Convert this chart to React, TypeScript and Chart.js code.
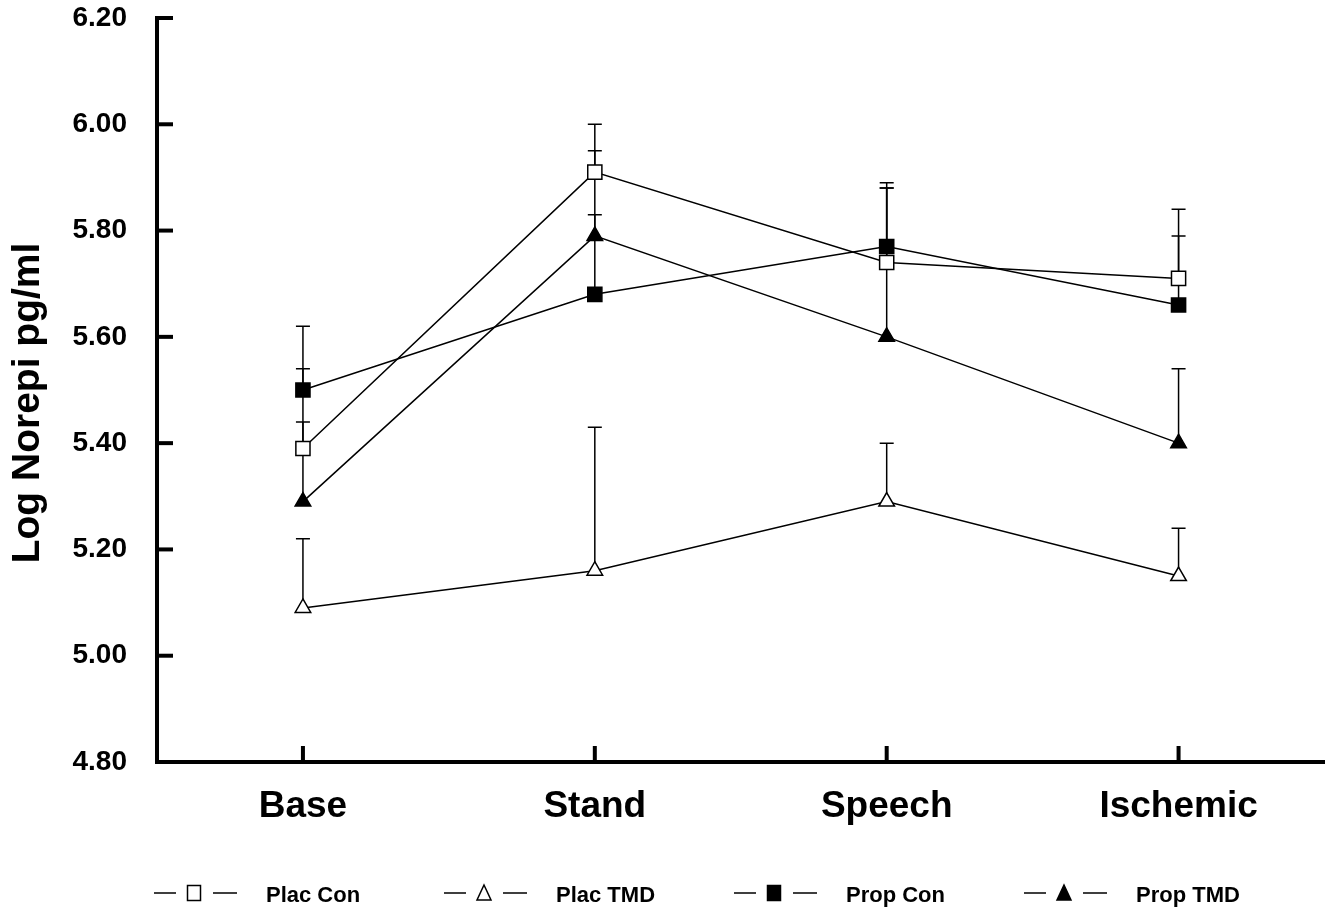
import React, { useEffect, useRef } from "react";
import { Chart, registerables } from "chart.js";

Chart.register(...registerables);

const CATEGORIES = ["Base", "Stand", "Speech", "Ischemic"];
const Y_TICKS = [4.8, 5.0, 5.2, 5.4, 5.6, 5.8, 6.0, 6.2];
const Y_TITLE = "Log Norepi pg/ml";

const PLAC_CON = [5.39, 5.91, 5.74, 5.71];
const PLAC_CON_UPPER = [5.54, 6.0, 5.88, 5.84];
const PLAC_TMD = [5.09, 5.16, 5.29, 5.15];
const PLAC_TMD_UPPER = [5.22, 5.43, 5.4, 5.24];
const PROP_CON = [5.5, 5.68, 5.77, 5.66];
const PROP_CON_UPPER = [5.62, 5.83, 5.89, 5.79];
const PROP_TMD = [5.29, 5.79, 5.6, 5.4];
const PROP_TMD_UPPER = [5.44, 5.95, 5.88, 5.54];

const SERIES_LABELS = ["Plac Con", "Plac TMD", "Prop Con", "Prop TMD"];

const FONT = "'Liberation Sans', Arial, sans-serif";

type Sty = { shape: "rect" | "triangle"; filled: boolean };
const STYLES: Sty[] = [
  { shape: "rect", filled: false },
  { shape: "triangle", filled: false },
  { shape: "rect", filled: true },
  { shape: "triangle", filled: true },
];

const errorBarPlugin = {
  id: "errorBars",
  beforeDatasetsDraw(chart: any) {
    const ctx = chart.ctx;
    const yScale = chart.scales.y;
    ctx.save();
    ctx.strokeStyle = "#000";
    ctx.lineWidth = 1.5;
    chart.data.datasets.forEach((ds: any, i: number) => {
      const meta = chart.getDatasetMeta(i);
      meta.data.forEach((pt: any, j: number) => {
        const up = ds.upper[j];
        const yu = yScale.getPixelForValue(up);
        ctx.beginPath();
        ctx.moveTo(pt.x, pt.y);
        ctx.lineTo(pt.x, yu);
        ctx.moveTo(pt.x - 7, yu);
        ctx.lineTo(pt.x + 7, yu);
        ctx.stroke();
      });
    });
    ctx.restore();
  },
};

const axisTicksPlugin = {
  id: "inwardTicks",
  afterDraw(chart: any) {
    const ctx = chart.ctx;
    const { left, top, bottom } = chart.chartArea;
    const y = chart.scales.y;
    const x = chart.scales.x;
    ctx.save();
    ctx.strokeStyle = "#000";
    ctx.lineWidth = 4;
    ctx.lineCap = "butt";
    Y_TICKS.forEach((v) => {
      const py = y.getPixelForValue(v);
      ctx.beginPath();
      ctx.moveTo(left - 2, py);
      ctx.lineTo(left + 16, py);
      ctx.stroke();
    });
    CATEGORIES.forEach((_, i) => {
      const px = x.getPixelForValue(i);
      ctx.beginPath();
      ctx.moveTo(px, bottom + 2);
      ctx.lineTo(px, bottom - 16);
      ctx.stroke();
    });
    // y-axis title
    ctx.translate(28, (top + bottom) / 2 + 13);
    ctx.rotate(-Math.PI / 2);
    ctx.fillStyle = "#000";
    ctx.font = `bold 39px ${FONT}`;
    ctx.textAlign = "center";
    ctx.textBaseline = "middle";
    ctx.fillText(Y_TITLE, 0, 0);
    ctx.restore();
  },
};

function drawMarker(ctx: CanvasRenderingContext2D, s: Sty, cx: number, cy: number) {
  ctx.beginPath();
  if (s.shape === "rect") {
    ctx.rect(cx - 6.5, cy - 7.5, 13, 15);
  } else {
    ctx.moveTo(cx, cy - 8);
    ctx.lineTo(cx + 7, cy + 7);
    ctx.lineTo(cx - 7, cy + 7);
    ctx.closePath();
  }
  ctx.fillStyle = s.filled ? "#000" : "#fff";
  ctx.fill();
  ctx.lineWidth = 1.5;
  ctx.strokeStyle = "#000";
  ctx.stroke();
}

const legendPlugin = {
  id: "customLegend",
  afterDraw(chart: any) {
    const ctx = chart.ctx;
    ctx.save();
    const yc = 893;
    SERIES_LABELS.forEach((label, i) => {
      const x0 = 154 + i * 290;
      ctx.strokeStyle = "#000";
      ctx.lineWidth = 1.5;
      ctx.beginPath();
      ctx.moveTo(x0, yc);
      ctx.lineTo(x0 + 22, yc);
      ctx.moveTo(x0 + 59, yc);
      ctx.lineTo(x0 + 83, yc);
      ctx.stroke();
      drawMarker(ctx, STYLES[i], x0 + 40, yc);
      ctx.fillStyle = "#000";
      ctx.font = `bold 22px ${FONT}`;
      ctx.textBaseline = "middle";
      ctx.textAlign = "left";
      ctx.fillText(label, x0 + 112, yc + 3);
    });
    ctx.restore();
  },
};

export default function App() {
  const ref = useRef<HTMLCanvasElement | null>(null);
  useEffect(() => {
    document.body.style.margin = "0";
    const canvas = ref.current;
    if (!canvas) return;
    const seriesValues = [PLAC_CON, PLAC_TMD, PROP_CON, PROP_TMD];
    const seriesUpper = [PLAC_CON_UPPER, PLAC_TMD_UPPER, PROP_CON_UPPER, PROP_TMD_UPPER];
    const datasets = SERIES_LABELS.map((label, i) => ({
      label,
      data: seriesValues[i],
      upper: seriesUpper[i],
      borderColor: "#000",
      borderWidth: 1.5,
      backgroundColor: STYLES[i].filled ? "#000" : "#fff",
      pointStyle: STYLES[i].shape,
      pointRadius: STYLES[i].shape === "rect" ? 10 : 9,
      pointBorderWidth: 1.5,
      pointBorderColor: "#000",
      pointBackgroundColor: STYLES[i].filled ? "#000" : "#fff",
      tension: 0,
      fill: false,
    }));
    const chart = new Chart(canvas, {
      type: "line",
      data: { labels: CATEGORIES, datasets: datasets as any },
      options: {
        responsive: false,
        animation: false,
        devicePixelRatio: 1,
        layout: { padding: { left: 0, right: 10, top: 18, bottom: 0 } },
        plugins: { legend: { display: false }, tooltip: { enabled: false } },
        scales: {
          x: {
            type: "category",
            offset: true,
            grid: { display: false, drawTicks: false },
            border: { display: true, color: "#000", width: 4 },
            ticks: {
              color: "#000",
              padding: 23,
              font: { family: FONT, size: 37, weight: "bold" },
              maxRotation: 0,
            },
            afterFit: (scale: any) => {
              scale.height = 149;
              scale.paddingLeft = 0;
              scale.paddingRight = 0;
            },
          },
          y: {
            type: "linear",
            min: 4.8,
            max: 6.2,
            afterBuildTicks: (scale: any) => {
              scale.ticks = Y_TICKS.map((v) => ({ value: v }));
            },
            grid: { display: false, drawTicks: false },
            border: { display: true, color: "#000", width: 4 },
            ticks: {
              color: "#000",
              padding: 30,
              font: { family: FONT, size: 28, weight: "bold" },
              callback: (v: any) => Number(v).toFixed(2),
            },
            title: { display: false },
            afterFit: (scale: any) => {
              scale.width = 157;
              scale.paddingTop = 0;
              scale.paddingBottom = 0;
            },
          },
        },
      },
      plugins: [errorBarPlugin, axisTicksPlugin, legendPlugin],
    });
    return () => chart.destroy();
  }, []);
  return (
    <div style={{ width: 1336, height: 911, background: "#fff" }}>
      <canvas ref={ref} width={1336} height={911} style={{ display: "block" }} />
    </div>
  );
}
